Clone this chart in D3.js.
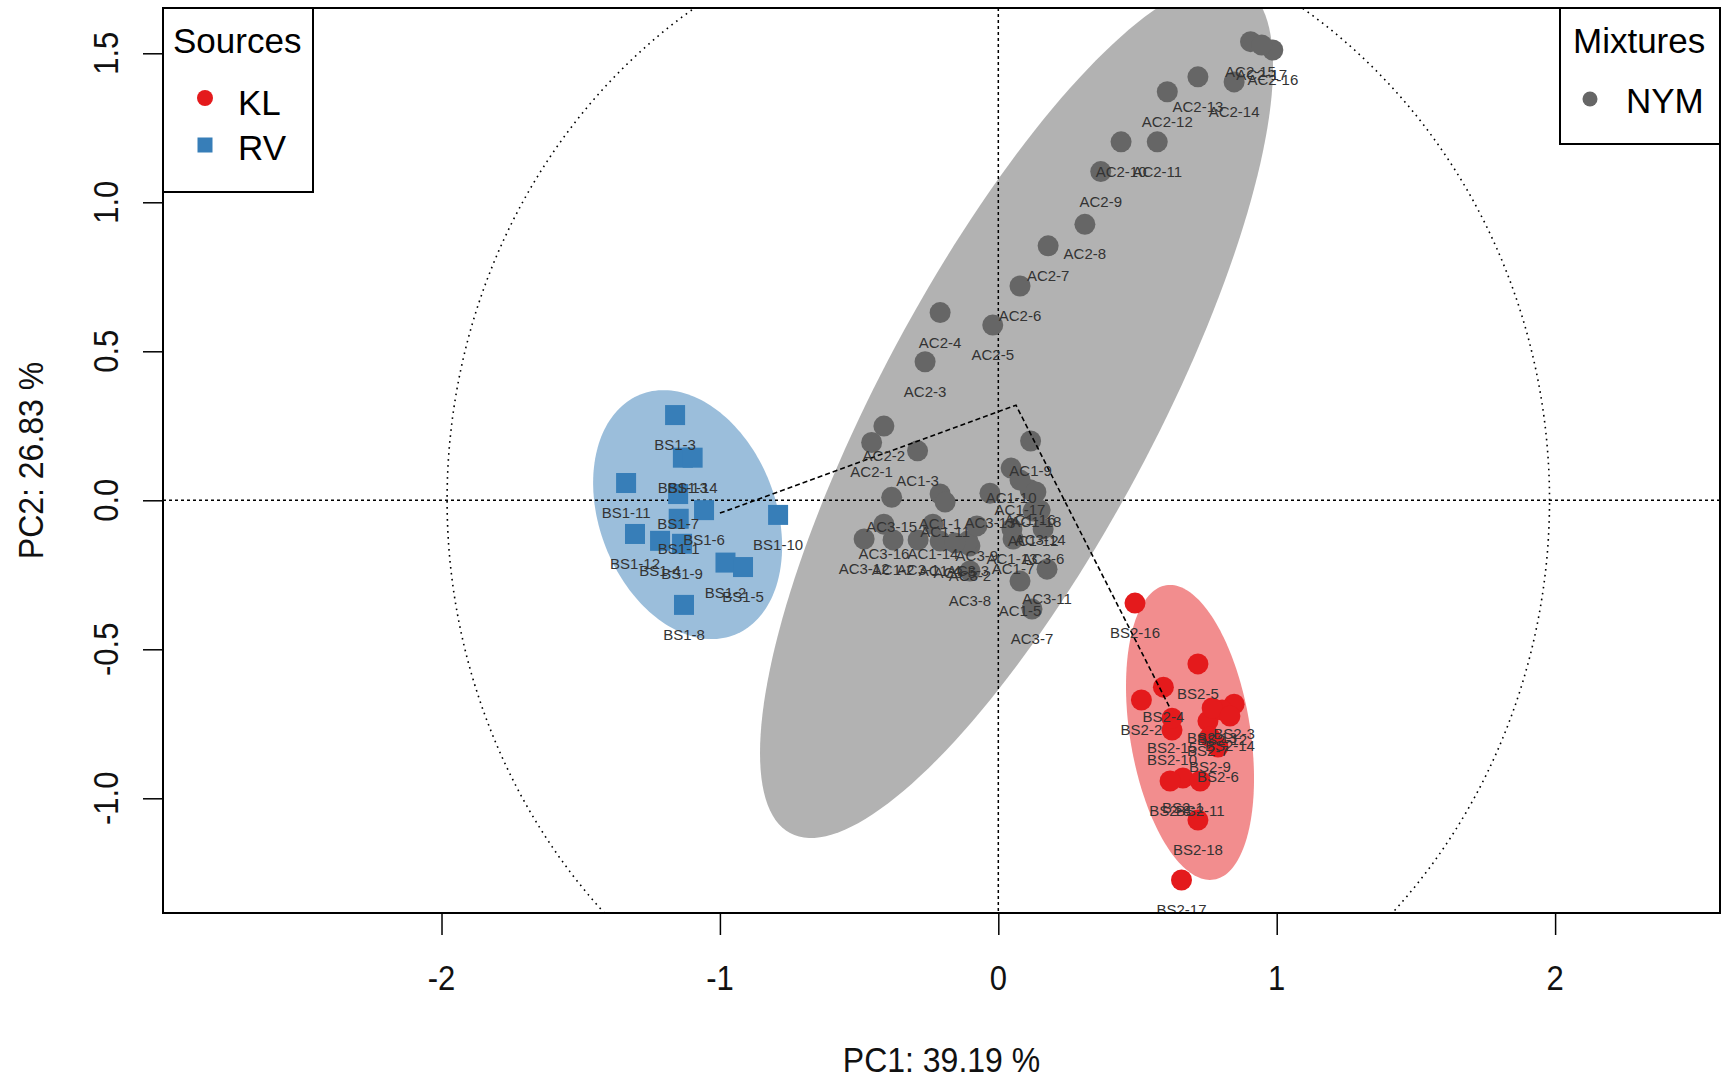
<!DOCTYPE html>
<html><head><meta charset="utf-8">
<script src="https://cdn.jsdelivr.net/npm/d3@7"></script>
<style>body{margin:0;background:#fff} svg{display:block} text{font-family:"Liberation Sans",Arial,sans-serif}</style>
</head><body><svg id="c" width="1722" height="1080"></svg>
<script>
// ---------- data ----------
const xTicks = [-2, -1, 0, 1, 2];
const xTickLabels = ["-2", "-1", "0", "1", "2"];
const yTicks = [-1, -0.5, 0, 0.5, 1, 1.5];
const yTickLabels = ["-1.0", "-0.5", "0.0", "0.5", "1.0", "1.5"];
const xTitle = "PC1: 39.19 %";
const yTitle = "PC2: 26.83 %";

// Source KL (red)
const klNames = ["BS2-1","BS2-2","BS2-3","BS2-4","BS2-5","BS2-6","BS2-7","BS2-8","BS2-9","BS2-10","BS2-11","BS2-12","BS2-13","BS2-14","BS2-15","BS2-16","BS2-17","BS2-18"];
const klX = [0.663,0.514,0.847,0.593,0.717,0.789,0.753,0.617,0.760,0.624,0.725,0.804,0.768,0.832,0.624,0.491,0.658,0.717];
const klY = [-0.932,-0.670,-0.684,-0.627,-0.549,-0.828,-0.741,-0.942,-0.794,-0.771,-0.942,-0.704,-0.697,-0.724,-0.731,-0.345,-1.274,-1.073];

// Source RV (blue)
const rvNames = ["BS1-1","BS1-2","BS1-3","BS1-4","BS1-5","BS1-6","BS1-7","BS1-8","BS1-9","BS1-10","BS1-11","BS1-12","BS1-13","BS1-14"];
const rvX = [-1.148,-0.980,-1.161,-1.215,-0.917,-1.057,-1.150,-1.129,-1.136,-0.791,-1.337,-1.305,-1.133,-1.098];
const rvY = [-0.062,-0.209,0.286,-0.136,-0.224,-0.033,0.021,-0.351,-0.146,-0.049,0.058,-0.113,0.143,0.143];

// Mixture NYM (grey)
const nymNames = ["AC2-1","AC2-2","AC2-3","AC2-4","AC2-5","AC2-6","AC2-7","AC2-8","AC2-9","AC2-10","AC2-11","AC2-12","AC2-13","AC2-14","AC2-15","AC2-16","AC2-17",
  "AC1-1","AC1-2","AC1-3","AC1-4","AC1-5","AC1-7","AC1-9","AC1-10","AC1-11","AC1-12","AC1-13","AC1-14","AC1-16","AC1-17","AC1-18",
  "AC3-1","AC3-2","AC3-3","AC3-5","AC3-6","AC3-7","AC3-8","AC3-9","AC3-11","AC3-12","AC3-13","AC3-14","AC3-15","AC3-16"];
const nymX = [-0.455,-0.411,-0.263,-0.209,-0.020,0.078,0.179,0.311,0.368,0.441,0.571,0.607,0.717,0.847,0.906,0.986,0.946,
  -0.209,-0.378,-0.290,-0.209,0.078,0.053,0.116,0.046,-0.191,0.125,0.049,-0.235,0.114,0.078,0.135,
  -0.288,-0.102,-0.109,-0.156,0.161,0.121,-0.102,-0.077,0.175,-0.482,-0.030,0.150,-0.383,-0.411];
const nymY = [0.194,0.249,0.465,0.630,0.588,0.719,0.854,0.926,1.103,1.203,1.203,1.371,1.421,1.404,1.539,1.511,1.528,
  0.021,-0.133,0.166,-0.137,-0.271,-0.130,0.199,0.108,-0.006,-0.036,-0.096,-0.080,0.035,0.068,0.028,
  -0.133,-0.153,-0.137,-0.143,-0.096,-0.365,-0.237,-0.086,-0.231,-0.130,0.024,-0.033,0.010,-0.080];

// group ellipses: centre and second-moment matrix (data units)
const ellipseGroups = ["NYM", "KL", "RV"];
const ellipseCX  = [0.0654, 0.6886, -1.116];
const ellipseCY  = [0.303, -0.779, -0.048];
const ellipseSXX = [0.8489, 0.05285, 0.1152];
const ellipseSYY = [2.0628, 0.245, 0.1745];
const ellipseSXY = [1.0605, -0.03556, -0.0362];

const circleRadius = 1.98;
const pathX = [-1.0, 0.0636, 0.6165];
const pathY = [-0.043, 0.319, -0.697];

// ---------- drawing ----------
const L = 163, R = 1720, T = 8, B = 913;
const svg = d3.select("#c");
const x = d3.scaleLinear().domain([-3.0004, 2.5923]).range([L, R]);
const y = d3.scaleLinear().domain([-1.3849, 1.652]).range([B, T]);
const col = {KL: "#E41A1C", RV: "#377EB8", NYM: "#666666"};
const fill = {KL: "#F28D8E", RV: "#9BBEDB", NYM: "#B2B2B2"};

svg.append("defs").append("clipPath").attr("id", "clip")
  .append("rect").attr("x", L).attr("y", T).attr("width", R - L).attr("height", B - T);
const g = svg.append("g").attr("clip-path", "url(#clip)");
const line = d3.line().x(d => x(d[0])).y(d => y(d[1]));

ellipseGroups.forEach((grp, i) => {
  const l11 = Math.sqrt(ellipseSXX[i]);
  const l21 = ellipseSXY[i] / l11;
  const l22 = Math.sqrt(ellipseSYY[i] - l21 * l21);
  const pts = d3.range(0, 360, 2).map(a => {
    const t = a * Math.PI / 180;
    return [ellipseCX[i] + l11 * Math.cos(t), ellipseCY[i] + l21 * Math.cos(t) + l22 * Math.sin(t)];
  });
  g.append("path").attr("d", line(pts) + "Z").attr("fill", fill[grp]);
});

// reference lines and correlation circle
g.append("line").attr("x1", x(0)).attr("x2", x(0)).attr("y1", T).attr("y2", B)
  .attr("stroke", "#000").attr("stroke-width", 1.5).attr("stroke-dasharray", "3,3");
g.append("line").attr("x1", L).attr("x2", R).attr("y1", y(0)).attr("y2", y(0))
  .attr("stroke", "#000").attr("stroke-width", 1.5).attr("stroke-dasharray", "3,3");
const circ = d3.range(0, 361, 1).map(a => [circleRadius * Math.cos(a * Math.PI / 180), circleRadius * Math.sin(a * Math.PI / 180)]);
g.append("path").attr("d", line(circ)).attr("fill", "none")
  .attr("stroke", "#000").attr("stroke-width", 1.6).attr("stroke-dasharray", "1.6,4.4");

// points
const kl = klNames.map((n, i) => ({n, x: klX[i], y: klY[i]}));
const rv = rvNames.map((n, i) => ({n, x: rvX[i], y: rvY[i]}));
const nym = nymNames.map((n, i) => ({n, x: nymX[i], y: nymY[i]}));

g.selectAll(".nym").data(nym).join("circle")
  .attr("cx", d => x(d.x)).attr("cy", d => y(d.y)).attr("r", 10.5).attr("fill", col.NYM);
g.selectAll(".kl").data(kl).join("circle")
  .attr("cx", d => x(d.x)).attr("cy", d => y(d.y)).attr("r", 10.5).attr("fill", col.KL);
g.selectAll(".rv").data(rv).join("rect")
  .attr("x", d => x(d.x) - 10).attr("y", d => y(d.y) - 10).attr("width", 20).attr("height", 20).attr("fill", col.RV);

// mixing path
g.append("path").attr("d", line(pathX.map((v, i) => [v, pathY[i]]))).attr("fill", "none")
  .attr("stroke", "#000").attr("stroke-width", 1.6).attr("stroke-dasharray", "5,3");

// labels
g.selectAll(".lab").data([...nym, ...rv, ...kl]).join("text")
  .attr("x", d => x(d.x)).attr("y", d => y(d.y) + 35).attr("text-anchor", "middle")
  .attr("font-size", 15).attr("fill", "#333").text(d => d.n);

// box
svg.append("rect").attr("x", L).attr("y", T).attr("width", R - L).attr("height", B - T)
  .attr("fill", "none").attr("stroke", "#000").attr("stroke-width", 2);

// axes (tick marks)
const ax = svg.append("g").attr("transform", `translate(0,${B})`)
  .call(d3.axisBottom(x).tickValues(xTicks).tickSize(22).tickFormat(""));
ax.select(".domain").remove();
ax.selectAll("line").attr("stroke-width", 1.5);
const ay = svg.append("g").attr("transform", `translate(${L},0)`)
  .call(d3.axisLeft(y).tickValues(yTicks).tickSize(20).tickFormat(""));
ay.select(".domain").remove();
ay.selectAll("line").attr("stroke-width", 1.5);

// tick labels
xTicks.forEach((v, i) => {
  svg.append("text").attr("transform", `translate(${x(v)},990) scale(1,1.12)`)
    .attr("text-anchor", "middle").attr("font-size", 31).attr("fill", "#111").text(xTickLabels[i]);
});
yTicks.forEach((v, i) => {
  svg.append("text").attr("transform", `translate(118,${y(v)}) rotate(-90) scale(1,1.12)`)
    .attr("text-anchor", "middle").attr("font-size", 31).attr("fill", "#111").text(yTickLabels[i]);
});
svg.append("text").attr("transform", `translate(${(L + R) / 2},1072) scale(1,1.1)`)
  .attr("text-anchor", "middle").attr("font-size", 32).attr("fill", "#111").text(xTitle);
svg.append("text").attr("transform", `translate(43,${(T + B) / 2}) rotate(-90) scale(1,1.1)`)
  .attr("text-anchor", "middle").attr("font-size", 32).attr("fill", "#111").text(yTitle);

// legends
const lg1 = svg.append("g");
lg1.append("rect").attr("x", L).attr("y", T).attr("width", 150).attr("height", 184)
  .attr("fill", "#fff").attr("stroke", "#000").attr("stroke-width", 2);
lg1.append("text").attr("x", 173).attr("y", 53).attr("font-size", 35).text("Sources");
lg1.append("circle").attr("cx", 205).attr("cy", 98).attr("r", 8).attr("fill", col.KL);
lg1.append("text").attr("x", 238).attr("y", 115).attr("font-size", 35).text("KL");
lg1.append("rect").attr("x", 197.5).attr("y", 137.5).attr("width", 15).attr("height", 15).attr("fill", col.RV);
lg1.append("text").attr("x", 238).attr("y", 160).attr("font-size", 35).text("RV");

const lg2 = svg.append("g");
lg2.append("rect").attr("x", 1560).attr("y", T).attr("width", R - 1560).attr("height", 136)
  .attr("fill", "#fff").attr("stroke", "#000").attr("stroke-width", 2);
lg2.append("text").attr("x", 1573).attr("y", 53).attr("font-size", 35).text("Mixtures");
lg2.append("circle").attr("cx", 1590).attr("cy", 99).attr("r", 7.5).attr("fill", col.NYM);
lg2.append("text").attr("x", 1626).attr("y", 113).attr("font-size", 35).text("NYM");
</script></body></html>
